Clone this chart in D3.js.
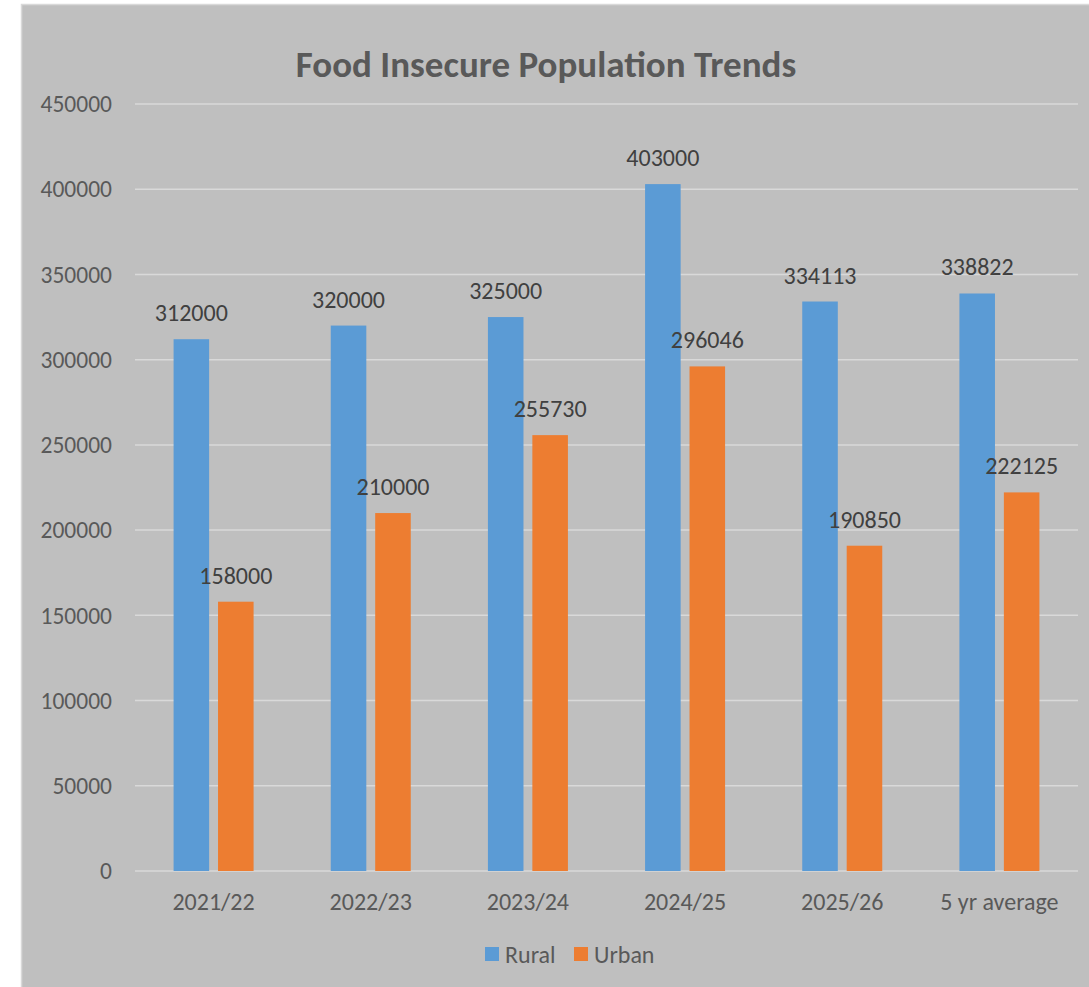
<!DOCTYPE html>
<html><head><meta charset="utf-8">
<script src="https://cdn.jsdelivr.net/npm/d3@7"></script>
<style>body{margin:0;background:#fff;}svg{display:block;}</style>
</head><body>
<script>
const categories = ["2021/22","2022/23","2023/24","2024/25","2025/26","5 yr average"];
const rural = [312000,320000,325000,403000,334113,338822];
const urban = [158000,210000,255730,296046,190850,222125];
const seriesNames = ["Rural","Urban"];
const colors = ["#5b9bd5","#ed7d31"];
const yTicks = [0,50000,100000,150000,200000,250000,300000,350000,400000,450000];

const W=1089,H=987;
const font = "Carlito, 'Open Sans', sans-serif";
const svg = d3.select("body").append("svg").attr("width",W).attr("height",H);
svg.append("rect").attr("x",21.5).attr("y",4.5).attr("width",W).attr("height",H)
  .attr("fill","#bfbfbf").attr("stroke","#d9d9d9").attr("stroke-width",1.5);

const x0=135,x1=1078,yb=871,yt=104;
const x = d3.scaleBand().domain(categories).range([x0,x1]).paddingInner(0).paddingOuter(0);
const bw = x.bandwidth();
const xs = d3.scaleBand().domain(seriesNames).range([bw/2-40,bw/2+40]).paddingInner(0.2).paddingOuter(0);
const y = d3.scaleLinear().domain([0,450000]).range([yb,yt]);

svg.append("g").selectAll("line").data(yTicks).join("line")
  .attr("x1",x0).attr("x2",x1).attr("y1",d=>y(d)).attr("y2",d=>y(d))
  .attr("stroke","#d9d9d9").attr("stroke-width",1.5);

svg.append("g").selectAll("text").data(yTicks).join("text")
  .attr("x",112).attr("y",d=>y(d)).attr("dy","0.35em").attr("text-anchor","end")
  .attr("font-family",font).attr("font-size",23.5).attr("fill","#595959").text(d=>d);

const data = categories.map((c,i)=>({c, vals:[rural[i],urban[i]]}));
const g = svg.append("g");
data.forEach(d=>{
  d.vals.forEach((v,j)=>{
    const bx = x(d.c)+xs(seriesNames[j]);
    g.append("rect").attr("x",bx).attr("y",y(v)).attr("width",xs.bandwidth()).attr("height",yb-y(v)).attr("fill",colors[j]);
    g.append("text").attr("x",bx+xs.bandwidth()/2).attr("y",y(v)-18).attr("text-anchor","middle")
      .attr("font-family",font).attr("font-size",24).attr("fill","#404040").text(v);
  });
});

svg.append("g").selectAll("text").data(categories).join("text")
  .attr("x",d=>x(d)+x.bandwidth()/2).attr("y",910).attr("text-anchor","middle")
  .attr("font-family",font).attr("font-size",24).attr("fill","#595959").text(d=>d);

svg.append("text").attr("x",546).attr("y",77).attr("text-anchor","middle")
  .attr("font-family",font).attr("font-size",37).attr("font-weight","bold").attr("fill","#595959")
  .text("Food Insecure Population Trends");

const leg = svg.append("g");
const legX=[485,574];
seriesNames.forEach((s,i)=>{
  leg.append("rect").attr("x",legX[i]).attr("y",947).attr("width",14).attr("height",14).attr("fill",colors[i]);
  leg.append("text").attr("x",legX[i]+20).attr("y",955).attr("dy","0.35em")
    .attr("font-family",font).attr("font-size",24).attr("fill","#595959").text(s);
});
</script>
</body></html>
